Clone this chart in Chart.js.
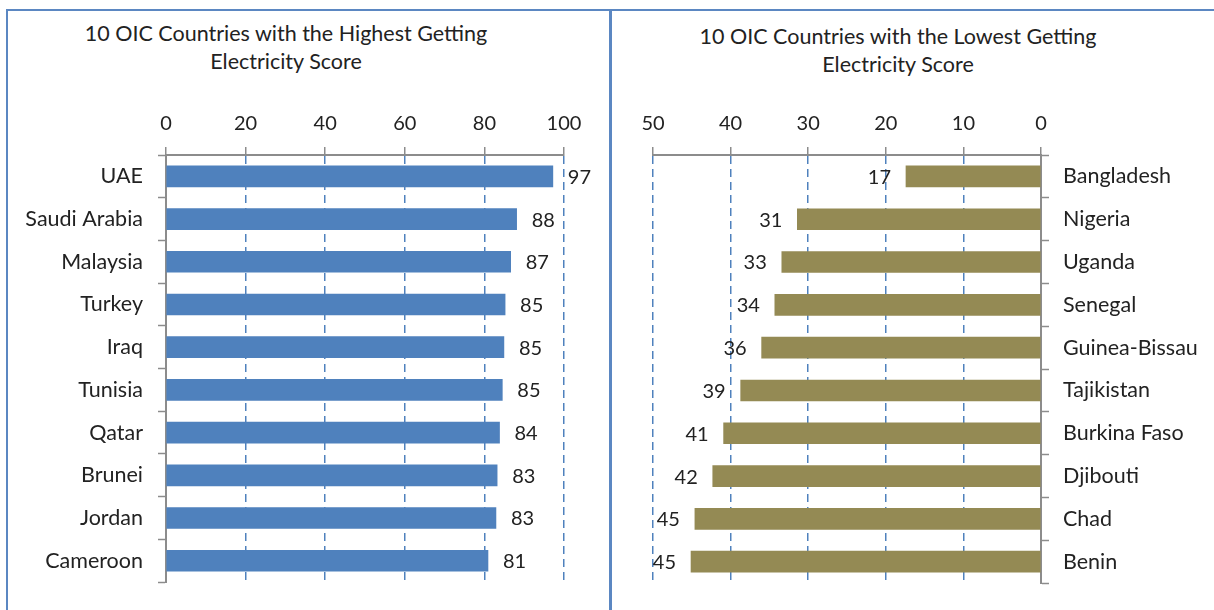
<!DOCTYPE html>
<html lang="en">
<head>
<meta charset="UTF-8">
<title>OIC Getting Electricity Scores</title>
<script src="https://cdn.jsdelivr.net/npm/chart.js"></script>
<style>
  body {
    margin: 0;
    background: #fff;
    width: 1214px;
    height: 610px;
    overflow: hidden;
    position: relative;
    font-family: Lato, sans-serif;
  }
  .panel {
    position: absolute;
    border: 2px solid #5b87c2;
    box-sizing: border-box;
  }
  #leftPanel { left: 6px; top: 9px; width: 605px; height: 640px; }
  #rightPanel { left: 610px; top: 9px; width: 640px; height: 640px; }
  .wrap { position: absolute; top: 0; height: 610px; }
  #leftWrap { left: 0; width: 610px; }
  #rightWrap { left: 612px; width: 602px; }
  .title {
    position: absolute;
    width: 460px;
    text-align: center;
    font-size: 21.5px;
    line-height: 28px;
    color: #222;
    white-space: nowrap;
  }
  #highTitle { left: 56px; top: 19px; }
  #lowTitle { left: 668px; top: 22px; }
</style>
</head>
<body>
<div class="panel" id="leftPanel"></div>
<div class="panel" id="rightPanel"></div>
<div class="title" id="highTitle"></div>
<div class="title" id="lowTitle"></div>
<div class="wrap" id="leftWrap"><canvas id="highChart"></canvas></div>
<div class="wrap" id="rightWrap"><canvas id="lowChart"></canvas></div>

<script>
// Data
const highTitle = ['10 OIC Countries with the Highest Getting', 'Electricity Score'];
const highCountries = ['UAE', 'Saudi Arabia', 'Malaysia', 'Turkey', 'Iraq', 'Tunisia', 'Qatar', 'Brunei', 'Jordan', 'Cameroon'];
const highScores = [97.2, 88.1, 86.6, 85.2, 84.9, 84.5, 83.8, 83.2, 82.9, 80.9];
const highTicks = [0, 20, 40, 60, 80, 100];

const lowTitle = ['10 OIC Countries with the Lowest Getting', 'Electricity Score'];
const lowCountries = ['Bangladesh', 'Nigeria', 'Uganda', 'Senegal', 'Guinea-Bissau', 'Tajikistan', 'Burkina Faso', 'Djibouti', 'Chad', 'Benin'];
const lowScores = [17.4, 31.4, 33.4, 34.3, 36.0, 38.7, 40.9, 42.3, 44.6, 45.1];
const lowTicks = [0, 10, 20, 30, 40, 50];

Chart.defaults.font.family = 'Lato, sans-serif';
Chart.defaults.color = '#222';

document.getElementById('highTitle').innerHTML = highTitle.join('<br>');
document.getElementById('lowTitle').innerHTML = lowTitle.join('<br>');

// value labels next to the bar ends
const valueLabels = {
    id: 'valueLabels',
    afterDatasetsDraw(chart, args, opts) {
        const ctx = chart.ctx;
        const meta = chart.getDatasetMeta(0);
        const values = chart.data.datasets[0].data;
        ctx.save();
        ctx.font = '20px Lato, sans-serif';
        ctx.fillStyle = '#222';
        ctx.textBaseline = 'middle';
        ctx.textAlign = opts.side === 'left' ? 'right' : 'left';
        meta.data.forEach((bar, i) => {
            const x = opts.side === 'left' ? bar.x - opts.gap : bar.x + opts.gap;
            ctx.fillText(String(Math.round(values[i])), x, bar.y + 1);
        });
        ctx.restore();
    }
};

function makeChart(id, cfg) {
    const ticks = cfg.ticks;
    return new Chart(document.getElementById(id), {
        type: 'bar',
        data: {
            labels: cfg.labels,
            datasets: [{
                data: cfg.values,
                backgroundColor: cfg.color,
                barThickness: 21
            }]
        },
        plugins: [valueLabels],
        options: {
            indexAxis: 'y',
            responsive: true,
            maintainAspectRatio: false,
            animation: false,
            layout: { padding: cfg.padding },
            plugins: {
                legend: { display: false },
                tooltip: { enabled: false },
                title: { display: false },
                valueLabels: { side: cfg.labelSide, gap: 15 }
            },
            scales: {
                x: {
                    position: 'top',
                    reverse: cfg.reverse,
                    min: ticks[0],
                    max: ticks[ticks.length - 1],
                    afterBuildTicks: s => { s.ticks = ticks.map(v => ({ value: v })); },
                    afterFit: s => { s.height = 155; },
                    ticks: { font: { size: 20 }, color: '#222', padding: 11 },
                    grid: {
                        color: '#4f81bd',
                        lineWidth: 1.5,
                        tickColor: '#8c8c8c',
                        tickLength: 8,
                        tickWidth: 1.5,
                        tickBorderDash: []
                    },
                    border: { color: '#8c8c8c', width: 2, dash: [8, 5] }
                },
                y: {
                    position: cfg.yPos,
                    afterFit: s => { s.width = cfg.yWidth; },
                    ticks: { font: { size: 21.5 }, color: '#222', padding: cfg.yPad },
                    grid: {
                        drawOnChartArea: false,
                        tickColor: '#8c8c8c',
                        tickLength: 8,
                        tickWidth: 1.5
                    },
                    border: { color: '#8c8c8c', width: 2 }
                }
            }
        }
    });
}

makeChart('highChart', {
    labels: highCountries,
    values: highScores,
    ticks: highTicks,
    color: '#4f81bd',
    reverse: false,
    yPos: 'left',
    yWidth: 158,
    yPad: 15,
    labelSide: 'right',
    padding: { left: 8, right: 46, top: 0, bottom: 25 }
});

makeChart('lowChart', {
    labels: lowCountries,
    values: lowScores,
    ticks: lowTicks,
    color: '#948a54',
    reverse: true,
    yPos: 'right',
    yWidth: 173,
    yPad: 14,
    labelSide: 'left',
    padding: { left: 41, right: 0, top: 0, bottom: 25 }
});
</script>
</body>
</html>
